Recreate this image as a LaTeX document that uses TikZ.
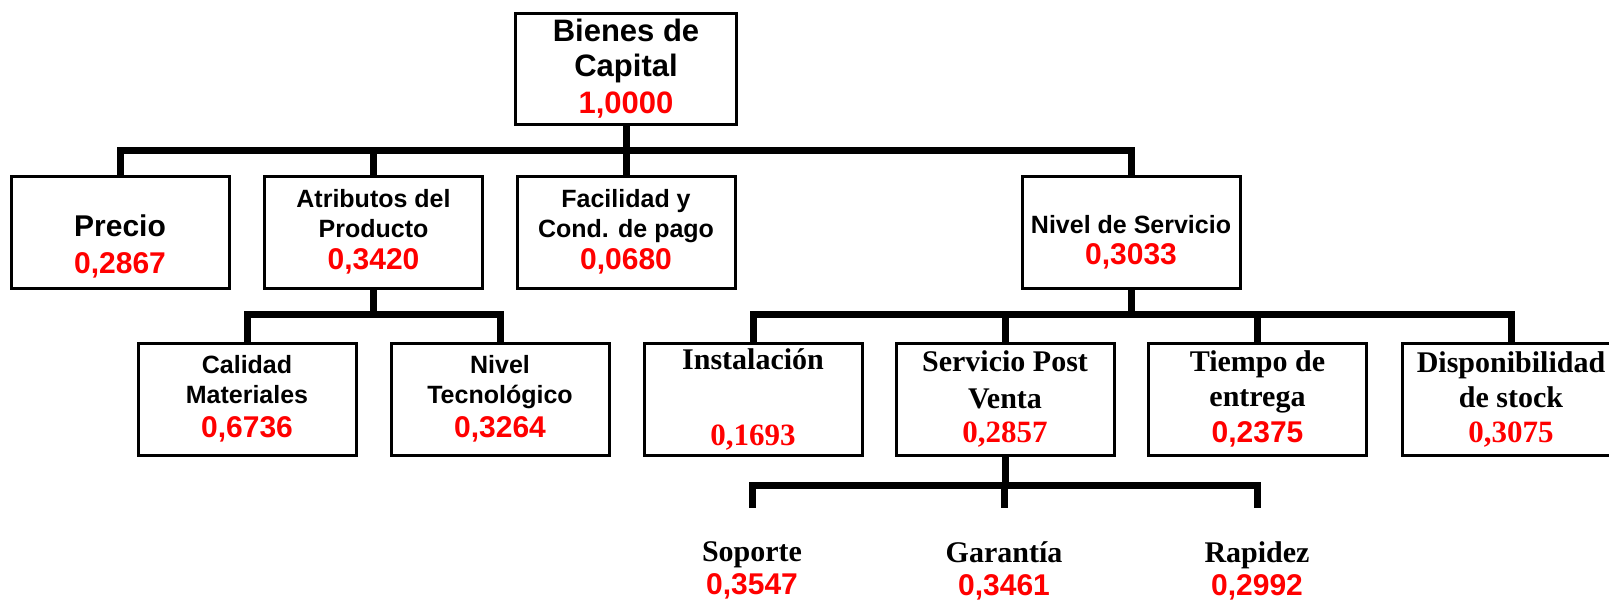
\documentclass[tikz,border=0pt]{standalone}
\usepackage{fontspec}
\setmainfont{Liberation Serif}
\setsansfont{Liberation Sans}
\definecolor{wred}{RGB}{255,0,0}

% weights in red
\newcommand{\sval}[1]{{\fontsize{30}{36}\selectfont\sffamily\color{wred}#1}}
\newcommand{\rval}[1]{{\fontsize{31}{36}\selectfont\rmfamily\color{wred}#1}}

\begin{document}
\begin{tikzpicture}[x=1pt, y=1pt,
    box/.style={draw, line width=3pt, minimum width=218pt, minimum height=112pt, inner sep=1pt, align=center},
    sansbox/.style={box, font=\fontsize{25}{30}\selectfont\sffamily\bfseries},
    serifbox/.style={box, font=\fontsize{30}{35}\selectfont\rmfamily\bfseries},
    leaf/.style={anchor=north, inner xsep=1pt, inner ysep=33pt, align=center, font=\fontsize{30}{33}\selectfont\rmfamily\bfseries},
    conn/.style={line width=7pt}]
    \useasboundingbox (0,0) rectangle (1609,-600);

    % Root
    \node[box, minimum width=221pt, minimum height=111pt, font=\fontsize{31}{35}\selectfont\sffamily\bfseries]
        (bienes) at (626,-68.5) {Bienes de\\Capital\\[2pt]\sval{\fontsize{31}{36}\selectfont 1,0000}};

    % First level
    \node[sansbox, font=\fontsize{30}{36}\selectfont\sffamily\bfseries] (precio) at (120,-232) {\rule{0pt}{50pt}Precio\\[1pt]\sval{0,2867}};
    \node[sansbox] (atrib) at (373.5,-232) {Atributos del\\Producto\\[2pt]\sval{0,3420}};
    \node[sansbox] (facil) at (626,-232) {Facilidad y\\Cond. de pago\\[2pt]\sval{0,0680}};
    \node[sansbox] (nivel) at (1131,-232) {\rule{0pt}{38pt}Nivel de Servicio\\[1pt]\sval{0,3033}};

    % Second level
    \node[serifbox] (inst) at (753,-399) {Instalación\\ \\[6pt]\rval{0,1693}};
    \node[sansbox] (calidad) at (247,-399) {Calidad\\Materiales\\[4pt]\sval{0,6736}};
    \node[sansbox] (tecno) at (500,-399) {Nivel\\Tecnológico\\[4pt]\sval{0,3264}};
    \node[serifbox] (serv) at (1005,-399) {Servicio Post\\[2pt]Venta\\[-1pt]\rval{0,2857}};
    \node[serifbox] (tiempo) at (1257.5,-399) {Tiempo de\\entrega\\[1pt]\sval{0,2375}};
    \node[serifbox] (disp) at (1511,-399) {Disponibilidad\\de stock\\\rval{0,3075}};

    % Third level
    \node[leaf] (soporte) at (752,-508) {Soporte\\\sval{0,3547}};
    \node[leaf] (garantia) at (1004,-508) {Garantía\\\sval{0,3461}};
    \node[leaf] (rapidez) at (1257,-508) {Rapidez\\\sval{0,2992}};

    % Connectors
    \coordinate (barA) at (0,-150);
    \coordinate (barB) at (0,-314);
    \coordinate (barC) at (0,-485);
    \foreach \c in {precio,atrib,facil,nivel}
        \draw[conn] (bienes.south) |- (barA -| \c.north) -- (\c.north);
    \foreach \c in {calidad,tecno}
        \draw[conn] (atrib.south) |- (barB -| \c.north) -- (\c.north);
    \foreach \c in {inst,serv,tiempo,disp}
        \draw[conn] (nivel.south) |- (barB -| \c.north) -- (\c.north);
    \foreach \c in {soporte,garantia,rapidez}
        \draw[conn] (serv.south) |- (barC -| \c.north) -- (\c.north);
\end{tikzpicture}
\end{document}
